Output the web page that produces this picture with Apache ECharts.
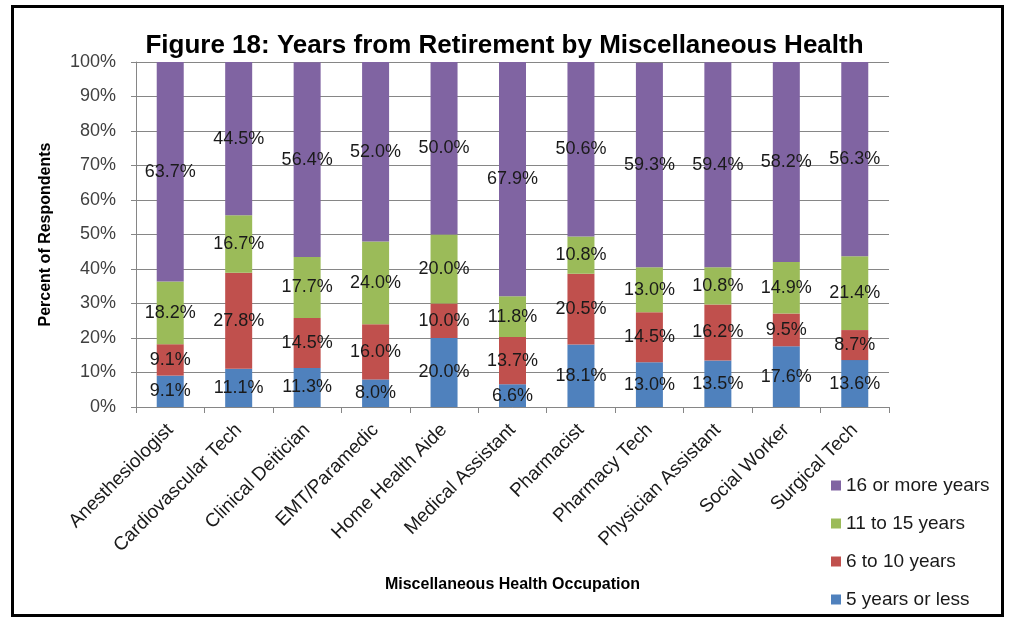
<!DOCTYPE html>
<html>
<head>
    <meta charset="utf-8"/>
    <title>Figure 18</title>
    <script src="https://cdn.jsdelivr.net/npm/echarts@6/dist/echarts.min.js"></script>
    <style>
        html, body { margin: 0; padding: 0; background: #fff; }
        #main { width: 1009px; height: 619px; }
    </style>
</head>
<body>
<div id="main"></div>
<script>
    // 数据
    var categories = ['Anesthesiologist', 'Cardiovascular Tech', 'Clinical Deitician', 'EMT/Paramedic',
        'Home Health Aide', 'Medical Assistant', 'Pharmacist', 'Pharmacy Tech',
        'Physician Assistant', 'Social Worker', 'Surgical Tech'];
    var seriesNames = ['5 years or less', '6 to 10 years', '11 to 15 years', '16 or more years'];
    var yrs5Less = [9.1, 11.1, 11.3, 8.0, 20.0, 6.6, 18.1, 13.0, 13.5, 17.6, 13.6];
    var yrs6to10 = [9.1, 27.8, 14.5, 16.0, 10.0, 13.7, 20.5, 14.5, 16.2, 9.5, 8.7];
    var yrs11to15 = [18.2, 16.7, 17.7, 24.0, 20.0, 11.8, 10.8, 13.0, 10.8, 14.9, 21.4];
    var yrs16More = [63.7, 44.5, 56.4, 52.0, 50.0, 67.9, 50.6, 59.3, 59.4, 58.2, 56.3];
    var yTicks = [0, 10, 20, 30, 40, 50, 60, 70, 80, 90, 100];

    var colors = ['#4F81BD', '#C0504D', '#9BBB59', '#8064A2'];
    var allData = [yrs5Less, yrs6to10, yrs11to15, yrs16More];
    var font = "'Liberation Sans', Arial, sans-serif";

    var myChart = echarts.init(document.getElementById('main'));

    var series = allData.map(function (arr, i) {
        return {
            name: seriesNames[i],
            type: 'bar',
            stack: 'total',
            barWidth: 27,
            data: arr,
            itemStyle: { color: colors[i] },
            label: {
                show: true,
                position: 'inside',
                color: '#1a1a1a',
                fontFamily: font,
                fontSize: 18,
                formatter: function (p) { return p.value.toFixed(1) + '%'; }
            }
        };
    });

    var option = {
        animation: false,
        backgroundColor: '#fff',
        title: {
            text: 'Figure 18: Years from Retirement by Miscellaneous Health',
            left: 'center',
            top: 28,
            textStyle: {
                fontFamily: font,
                fontWeight: 'bold',
                fontSize: 26,
                color: '#000'
            }
        },
        legend: {
            orient: 'vertical',
            left: 826,
            top: 471,
            itemWidth: 10,
            itemHeight: 10,
            itemGap: 19,
            icon: 'rect',
            data: seriesNames.slice().reverse(),
            textStyle: { fontFamily: font, fontSize: 19, color: '#1a1a1a' }
        },
        grid: { left: 136, right: 120, top: 62, bottom: 212 },
        xAxis: {
            type: 'category',
            data: categories,
            name: 'Miscellaneous Health Occupation',
            nameLocation: 'middle',
            nameGap: 170,
            nameTextStyle: { fontFamily: font, fontWeight: 'bold', fontSize: 16, color: '#000' },
            axisLine: { lineStyle: { color: '#868686' } },
            axisTick: { show: true, length: 6, lineStyle: { color: '#868686' } },
            axisLabel: { rotate: 45, fontFamily: font, fontSize: 19, color: '#1a1a1a', margin: 20 }
        },
        yAxis: {
            type: 'value',
            min: yTicks[0],
            max: yTicks[yTicks.length - 1],
            interval: 10,
            name: 'Percent of Respondents',
            nameLocation: 'middle',
            nameGap: 82,
            nameTextStyle: { fontFamily: font, fontWeight: 'bold', fontSize: 16, color: '#000' },
            axisLine: { show: true, lineStyle: { color: '#868686' } },
            axisTick: { show: true, length: 5, lineStyle: { color: '#868686' } },
            splitLine: { lineStyle: { color: '#868686' } },
            axisLabel: {
                fontFamily: font, fontSize: 18, color: '#404040', margin: 20,
                formatter: '{value}%'
            }
        },
        graphic: [{
            type: 'rect',
            shape: { x: 12.5, y: 6.5, width: 990, height: 609 },
            style: { fill: 'none', stroke: '#000', lineWidth: 3 },
            silent: true
        }],
        series: series
    };

    myChart.setOption(option);
</script>
</body>
</html>
